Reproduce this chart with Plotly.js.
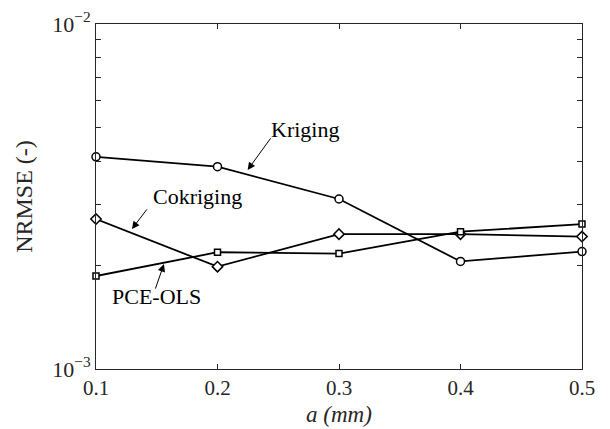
<!DOCTYPE html>
<html>
<head>
<meta charset="utf-8">
<script src="https://cdn.plot.ly/plotly-3.0.1.min.js"></script>
<style>html,body{margin:0;padding:0;background:#fff;}#chart{width:610px;height:429px;}</style>
</head>
<body>
<div id="chart"></div>
<script>
// Data
const a_mm = [0.1, 0.2, 0.3, 0.4, 0.5];
const kriging = [4.12e-3, 3.86e-3, 3.11e-3, 2.05e-3, 2.19e-3];
const cokriging = [2.72e-3, 1.98e-3, 2.46e-3, 2.46e-3, 2.42e-3];
const pceOls = [1.86e-3, 2.18e-3, 2.16e-3, 2.50e-3, 2.63e-3];
const xTicks = [0.1, 0.2, 0.3, 0.4, 0.5];
const xTickText = ['0.1', '0.2', '0.3', '0.4', '0.5'];
const yTicks = [1e-3, 2e-3, 3e-3, 4e-3, 5e-3, 6e-3, 7e-3, 8e-3, 9e-3, 1e-2];
const yTickText = ['10<sup>\u22123</sup>', '', '', '', '', '', '', '', '', '10<sup>\u22122</sup>'];

const serif = 'Liberation Serif, Times New Roman, serif';
const lineStyle = {color: '#000', width: 1.8};

function series(y, sym, size) {
  return {
    x: a_mm, y: y, type: 'scatter', mode: 'lines+markers',
    line: lineStyle,
    marker: {symbol: sym, size: size, color: '#fff', line: {color: '#000', width: 1.5}},
    showlegend: false, cliponaxis: false
  };
}

const data = [
  series(kriging, 'circle', 8),
  series(cokriging, 'diamond', 8),
  series(pceOls, 'square', 6)
];

function label(text, x, ly) {
  return {x: x, y: ly, xref: 'x', yref: 'y', text: text, showarrow: false,
          font: {family: serif, size: 22, color: '#000'}};
}
function arrow(x, ly, ax, ay) {
  return {x: x, y: ly, xref: 'x', yref: 'y', text: '', showarrow: true,
          arrowhead: 2, arrowsize: 1.5, arrowwidth: 1, arrowcolor: '#000',
          ax: ax, ay: ay, standoff: 0, startstandoff: 0};
}

const layout = {
  width: 610, height: 429,
  margin: {l: 96, r: 28, t: 24, b: 60},
  paper_bgcolor: '#fff', plot_bgcolor: '#fff',
  font: {family: serif, color: '#262626'},
  xaxis: {
    range: [0.1, 0.5], tickvals: xTicks, ticktext: xTickText,
    ticks: 'inside', ticklen: 5, tickcolor: '#262626', tickwidth: 1,
    showline: true, linecolor: '#262626', linewidth: 1, mirror: 'ticks',
    showgrid: false, zeroline: false,
    tickfont: {family: serif, size: 21, color: '#262626'},
    title: {text: '<i>a (mm)</i>', font: {family: serif, size: 23, color: '#262626'}, standoff: 6}
  },
  yaxis: {
    type: 'log', range: [-3, -2], tickvals: yTicks, ticktext: yTickText,
    ticks: 'inside', ticklen: 5, tickcolor: '#262626', tickwidth: 1,
    showline: true, linecolor: '#262626', linewidth: 1, mirror: 'ticks',
    showgrid: false, zeroline: false,
    tickfont: {family: serif, size: 22, color: '#262626'},
    title: {text: 'NRMSE (-)', font: {family: serif, size: 24, color: '#262626'}, standoff: 12}
  },
  annotations: [
    label('Kriging', 0.2717, -2.307),
    arrow(0.2248, -2.423, 24, -33),
    label('Cokriging', 0.1838, -2.499),
    arrow(0.1296, -2.594, 16, -21),
    label('PCE-OLS', 0.1501, -2.791),
    arrow(0.1559, -2.696, -9, 26)
  ]
};

Plotly.newPlot('chart', data, layout, {displayModeBar: false, staticPlot: true});
</script>
</body>
</html>
